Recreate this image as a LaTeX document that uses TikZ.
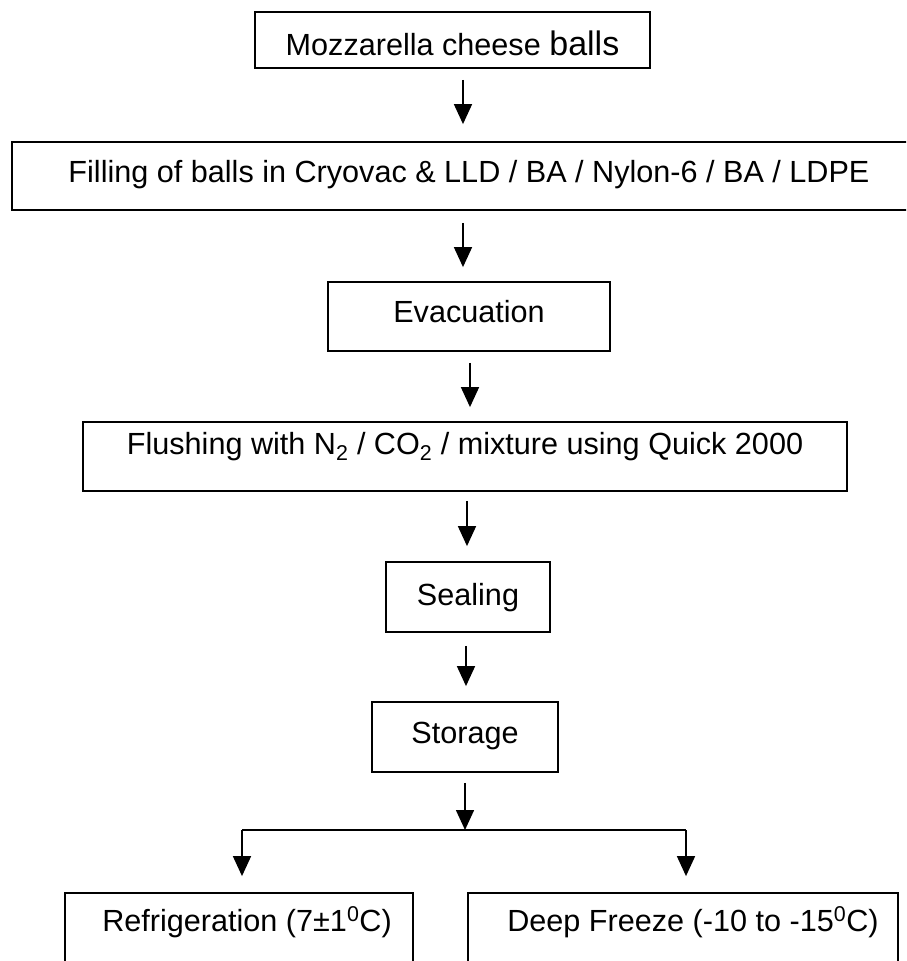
\documentclass[tikz,border=0pt]{standalone}
\usepackage{fontspec}
\setmainfont{Liberation Sans}
\usetikzlibrary{arrows.meta}
\begin{document}
\begin{tikzpicture}[x=1pt,y=-1pt,
  box/.style={draw, line width=1.8pt, inner sep=0pt, text height=22pt, text depth=0pt,
              font=\fontsize{30.6}{36}\selectfont},
  arr/.style={line width=1.6pt, -{Triangle[length=20pt,width=18pt]}},
  link/.style={line width=1.6pt}]
\useasboundingbox (0,0) rectangle (906,961);
\clip (0,0) rectangle (906,961);
\node[box, minimum width=395pt, minimum height=56pt, text height=30pt] (m) at (452.5,40)
  {Mozzarella cheese {\fontsize{34}{36}\selectfont balls}};
\node[box, minimum width=914pt, minimum height=68pt, text depth=10pt] (f) at (469,176)
  {Filling of balls in Cryovac \& LLD / BA / Nylon-6 / BA / LDPE};
\node[box, minimum width=282pt, minimum height=69pt, text depth=10pt] (e) at (469,316.5)
  {Evacuation};
\node[box, minimum width=764pt, minimum height=69pt, text depth=26pt] (fl) at (465,456.5)
  {Flushing with N\textsubscript{2} / CO\textsubscript{2} / mixture using Quick 2000};
\node[box, minimum width=164pt, minimum height=70pt, text depth=6pt] (s) at (468,597)
  {Sealing};
\node[box, minimum width=186pt, minimum height=70pt, text depth=10pt] (st) at (465,737)
  {Storage};
\node[box, minimum width=348pt, minimum height=97pt, text depth=43pt] (r) at (239,941.5)
  {\hspace*{16pt}Refrigeration (7\textpm1\textsuperscript{0}C)};
\node[box, minimum width=430pt, minimum height=97pt, text depth=43pt] (d) at (683,941.5)
  {\hspace*{20pt}Deep Freeze (-10 to -15\textsuperscript{0}C)};
\coordinate (bl) at (242,830);
\coordinate (bm) at (465,830);
\coordinate (br) at (686,830);
\draw[arr, shorten <=11pt, shorten >=17pt] ([xshift=10.5pt]m.south) -- ([xshift=-6pt]f.north);
\draw[arr, shorten <=12pt, shorten >=14pt] ([xshift=-6pt]f.south) -- ([xshift=-6pt]e.north);
\draw[arr, shorten <=11pt, shorten >=14pt] ([xshift=1pt]e.south) -- ([xshift=5pt]fl.north);
\draw[arr, shorten <=9pt, shorten >=15pt] ([xshift=2pt]fl.south) -- ([xshift=-1pt]s.north);
\draw[arr, shorten <=13pt, shorten >=15pt] ([xshift=-2pt]s.south) -- ([xshift=1pt]st.north);
\draw[arr, shorten <=10pt] (st.south) -- (bm);
\draw[link] (bl) -- (br);
\draw[arr, shorten >=16pt] (bl) -- ([xshift=3pt]r.north);
\draw[arr, shorten >=16pt] (br) -- ([xshift=3pt]d.north);
\end{tikzpicture}
\end{document}
